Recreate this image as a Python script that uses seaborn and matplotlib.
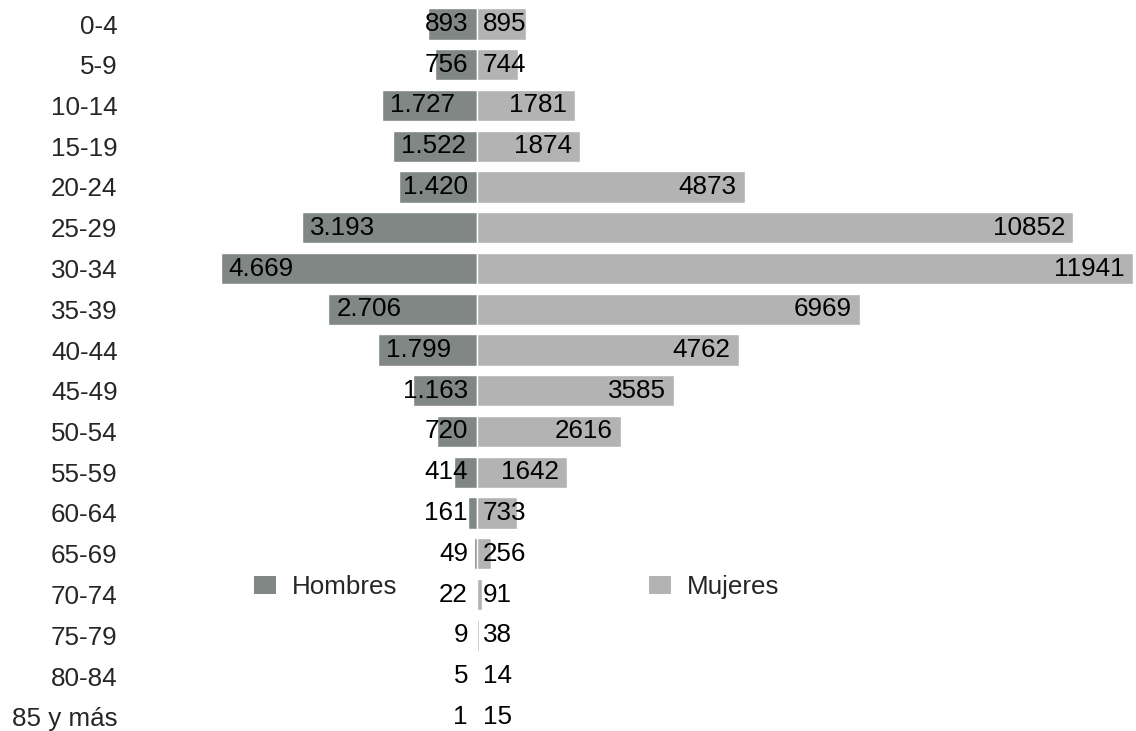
import numpy as np
import pandas as pd
import seaborn as sns
import matplotlib.pyplot as plt
from matplotlib.patches import Patch

age_groups = ['0-4', '5-9', '10-14', '15-19', '20-24', '25-29', '30-34', '35-39',
              '40-44', '45-49', '50-54', '55-59', '60-64', '65-69', '70-74',
              '75-79', '80-84', '85 y más']
hombres = [893, 756, 1727, 1522, 1420, 3193, 4669, 2706, 1799, 1163, 720, 414,
           161, 49, 22, 9, 5, 1]
mujeres = [895, 744, 1781, 1874, 4873, 10852, 11941, 6969, 4762, 3585, 2616, 1642,
           733, 256, 91, 38, 14, 15]

COLOR_H = '#808784'
COLOR_M = '#b3b3b3'
FS = 18.7

sns.set_style('white')
plt.rcParams['font.family'] = ['Liberation Sans', 'DejaVu Sans']

W, H = 1136, 731
fig = plt.figure(figsize=(W / 100, H / 100), dpi=100)

# axes geometry in pixels
left_px, zero_px = 130, 477
units_per_px = 11941 / 656.0
ax = fig.add_axes([left_px / W, 0, 1 - left_px / W, 1])

df = pd.DataFrame({'grupo': age_groups, 'Hombres': hombres, 'Mujeres': mujeres})
df['neg'] = -df['Hombres']

sns.barplot(data=df, x='neg', y='grupo', orient='h', color=COLOR_H, saturation=1,
            width=0.77, errorbar=None, edgecolor='white', linewidth=1, ax=ax)
sns.barplot(data=df, x='Mujeres', y='grupo', orient='h', color=COLOR_M, saturation=1,
            width=0.77, errorbar=None, edgecolor='white', linewidth=1, ax=ax)

ax.set_xlim(-(zero_px - left_px) * units_per_px, (W - zero_px) * units_per_px)
row_px, first_px = 40.75, 24
ax.set_ylim((H - first_px) / row_px, -first_px / row_px)
ax.set(xlabel='', ylabel='')
ax.set_xticks([])
ax.tick_params(axis='y', length=0, pad=9, labelsize=FS)
sns.despine(ax=ax, left=True, bottom=True)

# value labels, kept inside the bar when possible
fig.canvas.draw()
r = fig.canvas.get_renderer()
inv = ax.transData.inverted()
for i in range(len(age_groups)):
    y_px = ax.transData.transform((0, i))[1]
    # hombres
    t = ax.text(0, i, f'{hombres[i]:,}'.replace(',', '.'), ha='left', va='center',
                fontsize=FS, color='black')
    w = t.get_window_extent(r).width
    bar_left = ax.transData.transform((-hombres[i], i))[0]
    x_px = min(bar_left + 8, zero_px - 9 - w)
    t.set_x(inv.transform((x_px, y_px))[0])
    # mujeres
    t = ax.text(0, i, str(mujeres[i]), ha='left', va='center', fontsize=FS, color='black')
    w = t.get_window_extent(r).width
    bar_right = ax.transData.transform((mujeres[i], i))[0]
    x_px = max(bar_right - 8 - w, zero_px + 6)
    t.set_x(inv.transform((x_px, y_px))[0])

handles = [Patch(facecolor=COLOR_H, edgecolor='none'), Patch(facecolor=COLOR_M, edgecolor='none')]
fig.legend(handles, ['Hombres', 'Mujeres'], loc='center left', ncol=2, frameon=False,
           bbox_to_anchor=(254 / W, 1 - 587 / H), borderpad=0, borderaxespad=0,
           fontsize=FS, handlelength=0.85, handleheight=0.73, handletextpad=0.62,
           columnspacing=9.66)

fig.savefig('out.png', dpi=100)
